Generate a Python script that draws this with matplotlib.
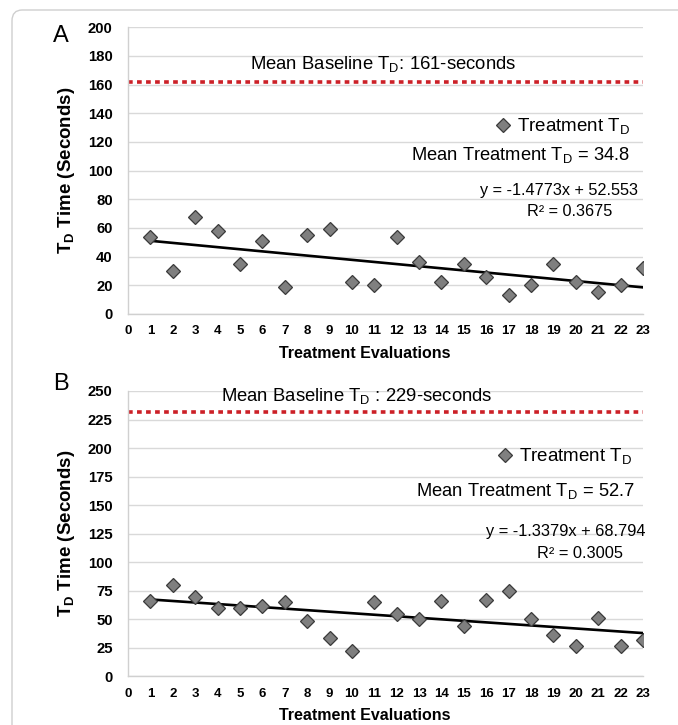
import matplotlib
matplotlib.use("Agg")
import matplotlib.pyplot as plt
from matplotlib.patches import FancyBboxPatch
import numpy as np

plt.rcParams['font.family'] = ['Liberation Sans', 'DejaVu Sans']
plt.rcParams['mathtext.fontset'] = 'custom'
plt.rcParams['mathtext.rm'] = 'Liberation Sans'

# 数据
evals = list(range(1, 24))
td_a = [54, 30, 68, 58, 35, 51, 19, 55, 59, 22, 20, 54, 36, 22, 35, 26, 13, 20, 35, 22, 15, 20, 32]
td_b = [66, 80, 70, 60, 60, 62, 65, 49, 34, 22, 65, 55, 50, 66, 44, 67, 75, 50, 36, 27, 51, 27, 32]
baseline_a = 162
baseline_b = 232
slope_a, icpt_a, r2_a = -1.4773, 52.553, 0.3675
slope_b, icpt_b, r2_b = -1.3379, 68.794, 0.3005
mean_a = 34.8
mean_b = 52.7
yticks_a = list(range(0, 201, 20))
yticks_b = list(range(0, 251, 25))

fig = plt.figure(figsize=(6.78, 7.25), dpi=100)

# 外框
frame = FancyBboxPatch((12 / 678, -0.1), 1.2, 1.1 - 10 / 725,
                       boxstyle="round,pad=0,rounding_size=0.015",
                       transform=fig.transFigure, fill=False,
                       edgecolor='#cfcfcf', linewidth=1.0)
fig.patches.append(frame)

axA = fig.add_axes([0.1888, 0.5669, 0.7596, 0.3954])
axB = fig.add_axes([0.1888, 0.0669, 0.7596, 0.3938])

TD = r'T$_\mathregular{D}$'


def style_axes(ax, yticks):
    ax.set_xlim(0, 23)
    ax.set_ylim(yticks[0], yticks[-1])
    ax.set_xticks(range(0, 24))
    ax.set_yticks(yticks)
    ax.grid(axis='y', color='#d9d9d9', linewidth=1.0)
    ax.set_axisbelow(True)
    for s in ['top', 'right']:
        ax.spines[s].set_visible(False)
    for s in ['left', 'bottom']:
        ax.spines[s].set_color('#d0d0d0')
        ax.spines[s].set_linewidth(1.0)
    ax.tick_params(axis='both', length=0)
    ax.tick_params(axis='y', pad=11, labelsize=10.7)
    ax.tick_params(axis='x', pad=8, labelsize=9.5)
    for lab in ax.get_xticklabels() + ax.get_yticklabels():
        lab.set_fontweight('bold')
    ax.set_ylabel(TD + ' Time (Seconds)', fontsize=13.5, fontweight='bold')
    ax.yaxis.set_label_coords(-0.10, 0.5)
    ax.set_xlabel('Treatment Evaluations', fontsize=11.5, fontweight='bold')
    ax.xaxis.set_label_coords(0.46, -0.112)


def draw_panel(ax, td, baseline, slope, icpt, yticks, leg_xy):
    style_axes(ax, yticks)
    ax.axhline(baseline, color='#cc2027', linewidth=2.6,
               linestyle=(0, (1.3, 1.2)), dash_capstyle='butt')
    x = np.array([evals[0], evals[-1]])
    ax.plot(x, slope * x + icpt, color='black', linewidth=1.9, zorder=2)
    ax.plot(evals, td, linestyle='none', marker='D', markersize=7,
            markerfacecolor='#7f7f7f', markeredgecolor='#3a3a3a',
            markeredgewidth=0.9, label='Treatment ' + TD, zorder=3)
    ax.legend(loc='center left', bbox_to_anchor=leg_xy, frameon=False,
              fontsize=13.5, handlelength=1.0, handletextpad=0.25,
              borderpad=0, borderaxespad=0)
    return ax


draw_panel(axA, td_a, baseline_a, slope_a, icpt_a, yticks_a, (0.71, 0.652))
draw_panel(axB, td_b, baseline_b, slope_b, icpt_b, yticks_b, (0.714, 0.769))

# 面板A文字
axA.text(11.39, 174.4, 'Mean Baseline ' + TD + ': 161-seconds', fontsize=13.3,
         ha='center', va='center')
axA.text(22.42, 110.9, 'Mean Treatment ' + TD + ' = %.1f' % mean_a, fontsize=13.2,
         ha='right', va='center')
axA.text(22.78, 86.5, 'y = %.4fx + %.3f' % (slope_a, icpt_a), fontsize=11.7,
         ha='right', va='center')
axA.text(19.74, 71.2, 'R² = %.4f' % r2_a, fontsize=11.7, ha='center', va='center')

# 面板B文字
axB.text(10.23, 245.6, 'Mean Baseline ' + TD + ' : 229-seconds', fontsize=13.3,
         ha='center', va='center', clip_on=False)
axB.text(22.64, 162.4, 'Mean Treatment ' + TD + ' = %.1f' % mean_b, fontsize=13.2,
         ha='right', va='center')
axB.text(23.09, 127.4, 'y = %.4fx + %.3f' % (slope_b, icpt_b), fontsize=11.8,
         ha='right', va='center')
axB.text(20.19, 108, 'R² = %.4f' % r2_b, fontsize=11.8, ha='center', va='center')

fig.text(61 / 678, 1 - 36 / 725, 'A', fontsize=17, ha='center', va='center')
fig.text(61 / 678, 1 - 384 / 725, 'B', fontsize=17, ha='center', va='center')

fig.savefig('out.png', dpi=100)
